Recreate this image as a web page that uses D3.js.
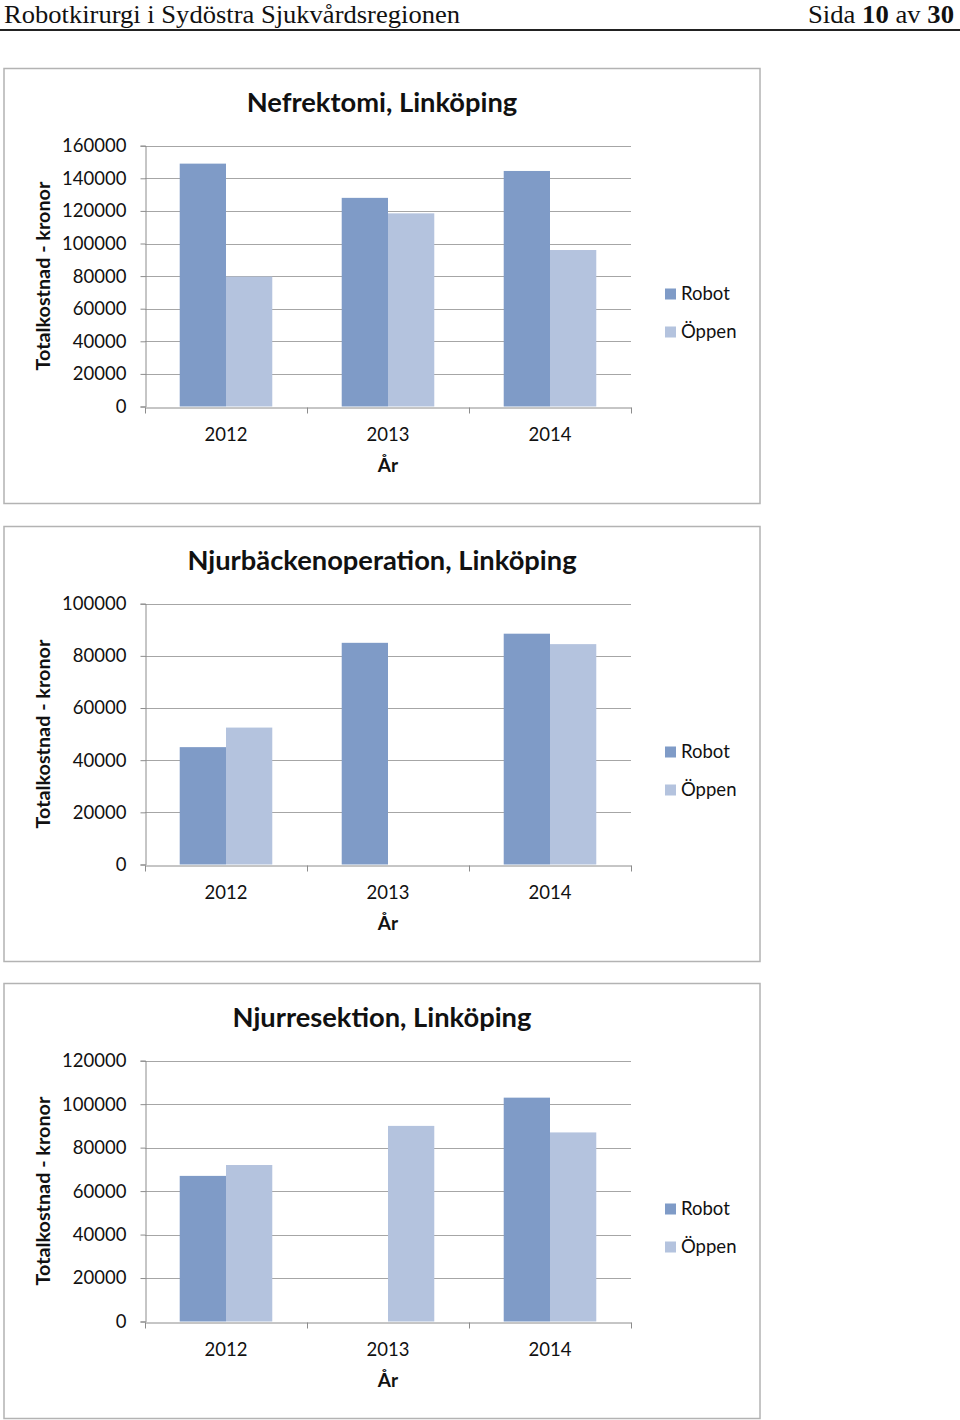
<!DOCTYPE html>
<html><head><meta charset="utf-8">
<script src="https://cdn.jsdelivr.net/npm/d3@7"></script>
<style>
html,body{margin:0;padding:0;background:#fff;}
svg{display:block;}
</style>
</head><body>
<svg id="c" width="960" height="1420"></svg>
<script>
const years = ["2012", "2013", "2014"];
const seriesNames = ["Robot", "Öppen"];

const titles = ["Nefrektomi, Linköping", "Njurbäckenoperation, Linköping", "Njurresektion, Linköping"];

const nefRobot = [149000, 128000, 144500];
const nefOppen = [79700, 118500, 96000];
const njbRobot = [45000, 85000, 88500];
const njbOppen = [52500, null, 84500];
const njrRobot = [67000, null, 103000];
const njrOppen = [72000, 90000, 87000];

const nefTicks = [0, 20000, 40000, 60000, 80000, 100000, 120000, 140000, 160000];
const njbTicks = [0, 20000, 40000, 60000, 80000, 100000];
const njrTicks = [0, 20000, 40000, 60000, 80000, 100000, 120000];

const yTitle = "Totalkostnad - kronor";
const xTitle = "År";
const headerLeft = "Robotkirurgi i Sydöstra Sjukvårdsregionen";

const charts = [
  {title: titles[0], robot: nefRobot, oppen: nefOppen, ticks: nefTicks},
  {title: titles[1], robot: njbRobot, oppen: njbOppen, ticks: njbTicks},
  {title: titles[2], robot: njrRobot, oppen: njrOppen, ticks: njrTicks}
];
const boxTops = [68, 526, 983];
const colors = {"Robot": "#7f9bc7", "Öppen": "#b4c3de"};

const svg = d3.select("#c");
const sans = "Lato, 'Open Sans', sans-serif";

// Header
svg.append("text").attr("x", 4).attr("y", 22.5)
  .attr("font-family", "'Liberation Serif', serif").attr("font-size", 25).attr("fill", "#111")
  .attr("textLength", 456).attr("lengthAdjust", "spacingAndGlyphs")
  .text(headerLeft);
const hr = svg.append("text").attr("x", 808).attr("y", 22.5)
  .attr("font-family", "'Liberation Serif', serif").attr("font-size", 25).attr("fill", "#111")
  .attr("textLength", 146).attr("lengthAdjust", "spacingAndGlyphs");
hr.append("tspan").text("Sida ");
hr.append("tspan").attr("font-weight", "bold").text("10");
hr.append("tspan").text(" av ");
hr.append("tspan").attr("font-weight", "bold").text("30");
svg.append("line").attr("x1", 0).attr("x2", 960).attr("y1", 30).attr("y2", 30)
  .attr("stroke", "#222").attr("stroke-width", 2);

charts.forEach((c, i) => {
  const top = boxTops[i];
  const g = svg.append("g").attr("transform", `translate(0,${top})`);
  g.append("rect").attr("x", 4).attr("y", 0.5).attr("width", 756).attr("height", 435)
    .attr("fill", "#fff").attr("stroke", "#b3b3b3").attr("stroke-width", 1.5);

  const plotTop = 77.7, plotBottom = 338.5, left = 145, right = 631;
  const maxV = c.ticks[c.ticks.length - 1];
  const y = d3.scaleLinear().domain([0, maxV]).range([plotBottom, plotTop]);
  const x0 = d3.scaleBand().domain(years).range([left, right]).paddingInner(0).paddingOuter(0);
  const x1 = d3.scaleBand().domain(seriesNames).range([0, x0.bandwidth()]).paddingInner(0).paddingOuter(0.75);

  g.append("text").attr("x", 382).attr("y", 44).attr("text-anchor", "middle")
    .attr("font-family", sans).attr("font-weight", "bold").attr("font-size", 27.3).attr("fill", "#111")
    .text(c.title);

  // gridlines
  g.append("g").selectAll("line").data(c.ticks.filter(t => t > 0)).join("line")
    .attr("x1", left).attr("x2", right).attr("y1", d => Math.round(y(d)) + 0.5).attr("y2", d => Math.round(y(d)) + 0.5)
    .attr("stroke", "#a6a6a6").attr("stroke-width", 1);

  // y axis
  const ya = g.append("g").attr("transform", `translate(${left + 0.5},0)`)
    .call(d3.axisLeft(y).tickValues(c.ticks).tickSize(5).tickPadding(14).tickFormat(d3.format("d")));
  ya.select(".domain").attr("stroke", "#8c8c8c");
  ya.selectAll(".tick line").attr("stroke", "#8c8c8c");
  ya.selectAll(".tick text").attr("font-family", sans).attr("font-size", 18.5).attr("fill", "#111");

  // bars
  const rows = years.map((yr, k) => ({year: yr, vals: [
    {s: "Robot", v: c.robot[k]}, {s: "Öppen", v: c.oppen[k]}]}));
  const bg = g.append("g").selectAll("g").data(rows).join("g")
    .attr("transform", d => `translate(${x0(d.year)},0)`);
  bg.selectAll("rect").data(d => d.vals.filter(e => e.v != null)).join("rect")
    .attr("x", d => x1(d.s)).attr("width", x1.bandwidth())
    .attr("y", d => y(d.v)).attr("height", d => y(0) - y(d.v))
    .attr("fill", d => colors[d.s]);

  // x axis
  const xa = g.append("g").attr("transform", `translate(0,${Math.round(plotBottom) + 0.5})`)
    .call(d3.axisBottom(x0).tickSize(0).tickPadding(20));
  xa.select(".domain").attr("stroke", "#8c8c8c");
  xa.selectAll(".tick text").attr("font-family", sans).attr("font-size", 18.5).attr("fill", "#111");
  const bounds = [left, ...years.map(yr => x0(yr) + x0.bandwidth())];
  xa.selectAll(".bt").data(bounds).join("line").attr("class", "bt")
    .attr("x1", d => Math.round(d) + 0.5).attr("x2", d => Math.round(d) + 0.5)
    .attr("y1", 0).attr("y2", 6).attr("stroke", "#8c8c8c");

  // axis titles
  g.append("text").attr("x", 388).attr("y", 404).attr("text-anchor", "middle")
    .attr("font-family", sans).attr("font-weight", "bold").attr("font-size", 19).attr("fill", "#111")
    .text(xTitle);
  g.append("text").attr("transform", `translate(50,${(plotTop + plotBottom) / 2}) rotate(-90)`)
    .attr("text-anchor", "middle")
    .attr("font-family", sans).attr("font-weight", "bold").attr("font-size", 19.8).attr("fill", "#111")
    .text(yTitle);

  // legend
  const lg = g.append("g").selectAll("g").data(seriesNames).join("g")
    .attr("transform", (d, k) => `translate(665,${226 + k * 38})`);
  lg.append("rect").attr("x", 0).attr("y", -5.5).attr("width", 11).attr("height", 11).attr("fill", d => colors[d]);
  lg.append("text").attr("x", 16).attr("y", 0).attr("dy", "0.35em")
    .attr("font-family", sans).attr("font-size", 18.5).attr("fill", "#111").text(d => d);
});
</script>
</body></html>
